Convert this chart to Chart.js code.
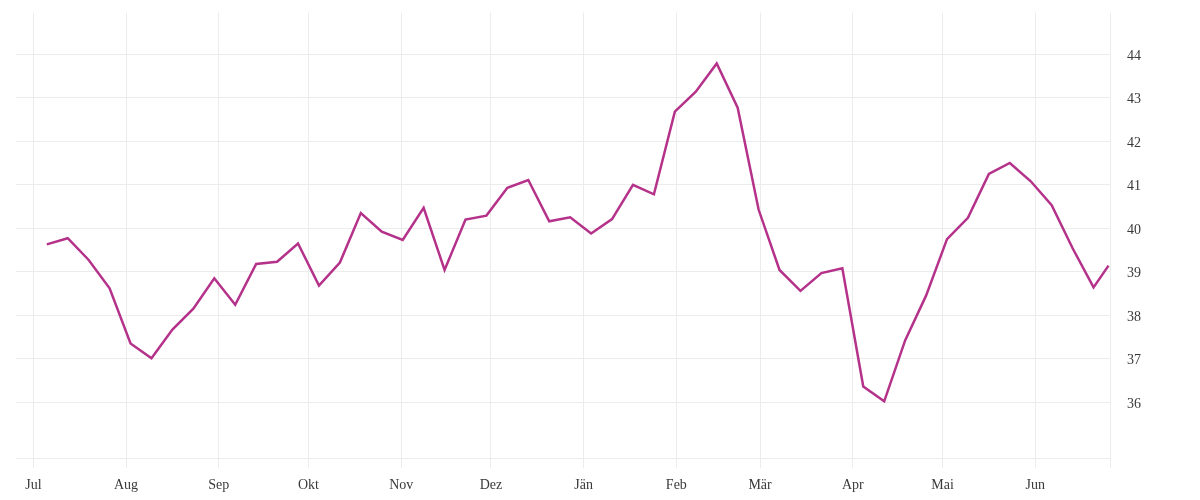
<!DOCTYPE html>
<html>
<head>
<meta charset="utf-8">
<script src="https://cdn.jsdelivr.net/npm/chart.js@4.4.1/dist/chart.umd.min.js"></script>
<style>
  html, body { margin: 0; padding: 0; background: #fff; }
  #wrap { width: 1200px; height: 500px; }
</style>
</head>
<body>
<div id="wrap"><canvas id="lineChart"></canvas></div>
<script>
// weekly readings (last one is the partial week at the right edge)
const weekDates = [
    '2018-07-05', '2018-07-12', '2018-07-19', '2018-07-26', '2018-08-02', '2018-08-09',
    '2018-08-16', '2018-08-23', '2018-08-30', '2018-09-06', '2018-09-13', '2018-09-20',
    '2018-09-27', '2018-10-04', '2018-10-11', '2018-10-18', '2018-10-25', '2018-11-01',
    '2018-11-08', '2018-11-15', '2018-11-22', '2018-11-29', '2018-12-06', '2018-12-13',
    '2018-12-20', '2018-12-27', '2019-01-03', '2019-01-10', '2019-01-17', '2019-01-24',
    '2019-01-31', '2019-02-07', '2019-02-14', '2019-02-21', '2019-02-28', '2019-03-07',
    '2019-03-14', '2019-03-21', '2019-03-28', '2019-04-04', '2019-04-11', '2019-04-18',
    '2019-04-25', '2019-05-02', '2019-05-09', '2019-05-16', '2019-05-23', '2019-05-30',
    '2019-06-06', '2019-06-13', '2019-06-20', '2019-06-25'
];
const weekValues = [
    39.63, 39.77, 39.27, 38.62, 37.35, 37.01,
    37.67, 38.15, 38.85, 38.24, 39.18, 39.23,
    39.65, 38.68, 39.21, 40.35, 39.92, 39.73,
    40.47, 39.04, 40.20, 40.29, 40.93, 41.11,
    40.16, 40.25, 39.88, 40.21, 41.00, 40.78,
    42.68, 43.14, 43.79, 42.77, 40.43, 39.04,
    38.56, 38.97, 39.08, 36.36, 36.02, 37.42,
    38.45, 39.75, 40.24, 41.25, 41.50, 41.08,
    40.53, 39.54, 38.64, 39.14
];
const monthStarts = [
    '2018-07-01', '2018-08-01', '2018-09-01', '2018-10-01', '2018-11-01', '2018-12-01',
    '2019-01-01', '2019-02-01', '2019-03-01', '2019-04-01', '2019-05-01', '2019-06-01'
];
const monthLabels = ['Jul', 'Aug', 'Sep', 'Okt', 'Nov', 'Dez', 'Jän', 'Feb', 'Mär', 'Apr', 'Mai', 'Jun'];
const yTicks = [36, 37, 38, 39, 40, 41, 42, 43, 44];

const DAY = 86400000;
const origin = Date.parse('2018-07-01T00:00:00Z');
const dayOf = (s, time) => (Date.parse(s + 'T' + time + 'Z') - origin) / DAY;

const monthDays = monthStarts.map(s => dayOf(s, '00:00:00'));
const xMin = -5.8;
const xMax = 360;

const points = weekDates.map((d, i) => ({ x: dayOf(d, '12:00:00'), y: weekValues[i] }));

const gridColor = '#ececec';
const tickFont = { family: '"Liberation Serif", serif', size: 14 };

const ctx = document.getElementById('lineChart').getContext('2d');
new Chart(ctx, {
    type: 'line',
    data: {
        datasets: [{
            data: points,
            borderColor: '#b5328a',
            borderWidth: 2.5,
            pointRadius: 0,
            pointHoverRadius: 0,
            fill: false,
            tension: 0
        }]
    },
    options: {
        responsive: true,
        maintainAspectRatio: false,
        animation: false,
        layout: { padding: { left: 16, top: 12.7, right: 0, bottom: 0 } },
        plugins: {
            legend: { display: false },
            tooltip: { enabled: false }
        },
        scales: {
            x: {
                type: 'linear',
                min: xMin,
                max: xMax,
                afterBuildTicks: scale => {
                    scale.ticks = monthDays.map(v => ({ value: v })).concat([{ value: xMax }]);
                },
                afterFit: scale => {
                    scale.height = 41.7;
                    scale.paddingLeft = 0;
                    scale.paddingRight = 0;
                },
                grid: { color: gridColor, lineWidth: 1, tickLength: 10 },
                border: { display: true, color: gridColor },
                ticks: {
                    autoSkip: false,
                    maxRotation: 0,
                    padding: 9,
                    color: '#3a3a3a',
                    font: tickFont,
                    callback: (value, index) => monthLabels[index] || ''
                }
            },
            y: {
                position: 'right',
                min: 34.71,
                max: 44.956,
                afterBuildTicks: scale => {
                    scale.ticks = yTicks.map(v => ({ value: v }));
                },
                afterFit: scale => {
                    scale.width = 90;
                    scale.paddingTop = 0;
                    scale.paddingBottom = 0;
                },
                grid: { color: gridColor, lineWidth: 1, drawTicks: false },
                border: { display: false },
                ticks: {
                    padding: 17,
                    labelOffset: 2,
                    color: '#3a3a3a',
                    font: tickFont,
                    callback: value => value
                }
            }
        }
    }
});
</script>
</body>
</html>
